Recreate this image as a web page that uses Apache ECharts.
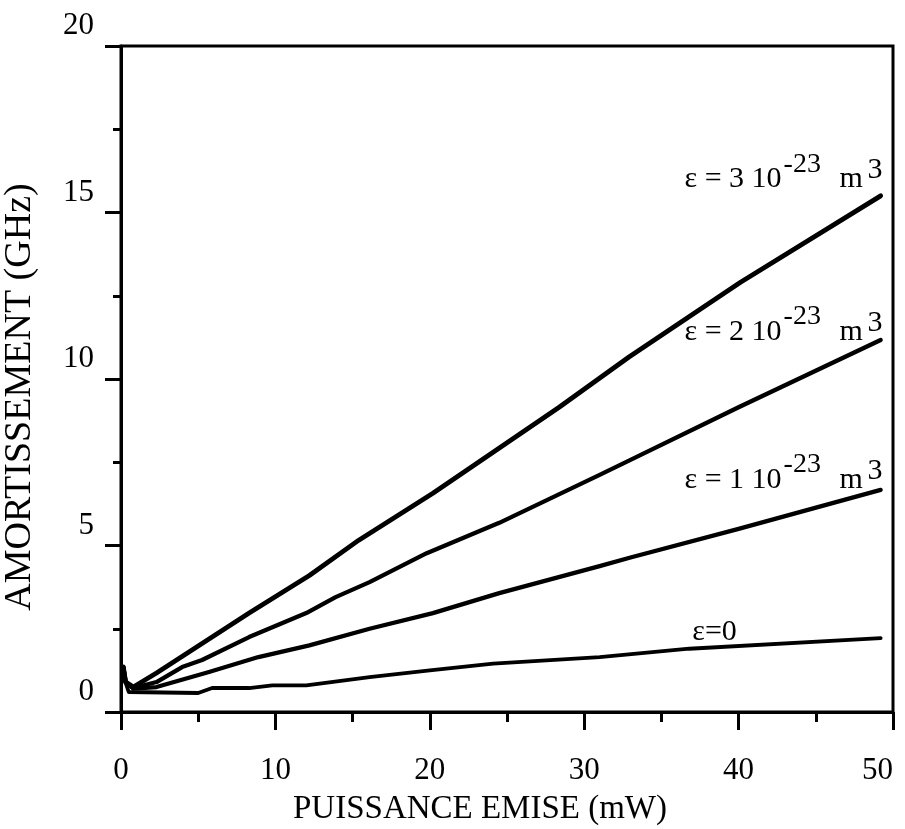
<!DOCTYPE html>
<html>
<head>
<meta charset="utf-8">
<script src="https://cdn.jsdelivr.net/npm/echarts@6/dist/echarts.min.js"></script>
<style>
html,body{margin:0;padding:0;background:#fff;}
#chart{width:905px;height:829px;}
</style>
</head>
<body>
<div id="chart"></div>
<script>
// ---- data ----
const xTicks = [0, 10, 20, 30, 40, 50];
const yTicks = [0, 5, 10, 15, 20];

const eps0X = [0.15, 0.25, 0.5, 5.0, 5.9, 8.3, 9.8, 12.0, 16.1, 20.0, 24.1, 31.0, 36.8, 49.2];
const eps0Y = [1.35, 0.95, 0.6, 0.57, 0.72, 0.72, 0.8, 0.8, 1.05, 1.25, 1.45, 1.65, 1.9, 2.22];

const eps1X = [0.15, 0.3, 0.8, 2.3, 5.7, 8.9, 12.2, 16.1, 20.2, 24.5, 31.0, 33.0, 40.0, 49.2];
const eps1Y = [1.35, 0.9, 0.7, 0.75, 1.2, 1.65, 2.0, 2.5, 2.97, 3.57, 4.38, 4.64, 5.5, 6.67];

const eps2X = [0.15, 0.3, 0.8, 2.3, 3.96, 5.25, 8.3, 12.0, 13.9, 16.1, 19.8, 24.5, 31.0, 33.0, 40.0, 49.2];
const eps2Y = [1.35, 0.9, 0.72, 0.9, 1.35, 1.56, 2.25, 2.97, 3.45, 3.9, 4.77, 5.68, 7.12, 7.57, 9.15, 11.17];

const eps3X = [0.15, 0.3, 0.8, 2.3, 4.4, 8.3, 12.2, 15.4, 20.2, 24.1, 28.4, 32.9, 40.1, 49.2];
const eps3Y = [1.35, 0.9, 0.75, 1.17, 1.8, 2.97, 4.1, 5.16, 6.57, 7.8, 9.16, 10.66, 12.9, 15.5];

const seriesNames = ['ε=0', 'ε = 1 10-23 m3', 'ε = 2 10-23 m3', 'ε = 3 10-23 m3'];
const labelCoeffs = ['0', '1', '2', '3'];
// left edge / vertical centre of each curve label, in data units
const labelX = [37.0, 36.5, 36.5, 36.5];
const labelY = [2.4, 6.97, 11.41, 16.0];

const xName = 'PUISSANCE EMISE (mW)';
const yName = 'AMORTISSEMENT (GHz)';

// ---- chart ----
const FONT = '"Liberation Serif", "Times New Roman", serif';
const pairs = (xs, ys) => xs.map((x, i) => [x, ys[i]]);
const allX = [eps0X, eps1X, eps2X, eps3X];
const allY = [eps0Y, eps1Y, eps2Y, eps3Y];
const widths = [3.8, 4.3, 4.3, 4.8];

function txt(text, size, offset) {
  return {
    show: true, position: 'inside', align: 'left', verticalAlign: 'middle',
    formatter: text, offset: offset,
    fontFamily: FONT, fontSize: size, color: '#000'
  };
}

function labelItems(i) {
  const c = [labelX[i], labelY[i]];
  if (i === 0) return [{coord: c, label: txt('ε=0', 30, [0, 0])}];
  return [
    {coord: c, label: txt('ε = ' + labelCoeffs[i] + ' 10', 30, [0, 0])},
    {coord: c, label: txt('-23', 28, [99, -15])},
    {coord: c, label: txt('m', 30, [155, 0])},
    {coord: c, label: txt('3', 30, [183, -9])}
  ];
}

const series = allX.map((xs, i) => ({
  name: seriesNames[i],
  type: 'line',
  data: pairs(xs, allY[i]),
  showSymbol: false,
  symbol: 'none',
  smooth: false,
  lineStyle: {color: '#000', width: widths[i], join: 'round', cap: 'round'},
  z: 3,
  markPoint: {
    symbol: 'circle',
    symbolSize: 0,
    silent: true,
    data: labelItems(i)
  }
}));

const chart = echarts.init(document.getElementById('chart'), null, {renderer: 'canvas'});
chart.setOption({
  backgroundColor: '#fff',
  animation: false,
  grid: {left: 121, top: 46, right: 12, bottom: 117, show: true, borderColor: '#000', borderWidth: 3,
         containLabel: false, outerBoundsMode: 'none'},
  xAxis: {
    type: 'value', min: xTicks[0], max: xTicks[xTicks.length - 1], interval: xTicks[1] - xTicks[0],
    name: xName, nameLocation: 'middle', nameGap: 81,
    nameTextStyle: {fontFamily: FONT, fontSize: 33, color: '#000', padding: [0, 54, 0, 0]},
    axisLine: {show: true, lineStyle: {color: '#000', width: 3}},
    axisTick: {show: true, length: 18, lineStyle: {color: '#000', width: 3}},
    minorTick: {show: true, splitNumber: 2, length: 10, lineStyle: {color: '#000', width: 3}},
    splitLine: {show: false},
    axisLabel: {fontFamily: FONT, fontSize: 31, color: '#000', margin: 43, alignMaxLabel: 'right'}
  },
  yAxis: {
    type: 'value', min: yTicks[0], max: yTicks[yTicks.length - 1], interval: yTicks[1] - yTicks[0],
    name: yName, nameLocation: 'middle', nameGap: 82, nameRotate: 90,
    nameTextStyle: {fontFamily: FONT, fontSize: 38, color: '#000', padding: [0, 36, 0, 0]},
    axisLine: {show: true, lineStyle: {color: '#000', width: 3}},
    axisTick: {show: true, length: 16, lineStyle: {color: '#000', width: 3}},
    minorTick: {show: true, splitNumber: 2, length: 8, lineStyle: {color: '#000', width: 3}},
    splitLine: {show: false},
    axisLabel: {fontFamily: FONT, fontSize: 31, color: '#000', margin: 27, verticalAlign: 'bottom', lineHeight: 40}
  },
  series: series
});
</script>
</body>
</html>
